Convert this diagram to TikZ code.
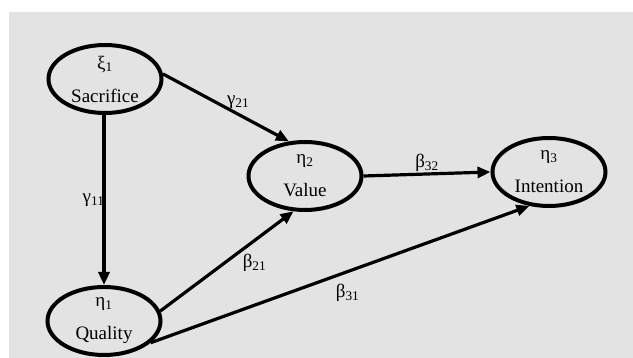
\documentclass[tikz,border=0pt]{standalone}
\usepackage{fontspec}
\setmainfont{Liberation Serif}
\usetikzlibrary{arrows.meta,positioning,shapes.geometric}

\begin{document}
\begin{tikzpicture}[x=1pt,y=-1pt,>={Triangle[length=13pt,width=11pt]},
  construct/.style={ellipse,draw,line width=4pt,minimum width=113pt,minimum height=68pt,
    inner sep=0pt,align=center,font=\fontsize{19}{20}\selectfont},
  link/.style={->,line width=3.2pt},
  coef/.style={font=\fontsize{19}{20}\selectfont,inner sep=1pt}]
\useasboundingbox (0,0) rectangle (633,358);
\fill[black!11] (9,12) rectangle (633,358);

\node[construct] (sac) at (105,79) {ξ\textsubscript{1}\\[13pt]Sacrifice};
\node[construct] (qua) at (104,321) {η\textsubscript{1}\\[13pt]Quality};
\node[construct] (val) at (305,176) {η\textsubscript{2}\\[13pt]Value};
\node[construct] (int) at (549,172) {η\textsubscript{3}\\[13pt]Intention};

\draw[link] (sac.south -| qua.north) -- node[coef,pos=.5,left,xshift=3pt] {γ\textsubscript{11}} (qua.north);
\draw[link] (sac.5) -- node[coef,pos=.55,above,xshift=6pt] {γ\textsubscript{21}} (val.115);
\draw[link] (val.east) -- node[coef,midway,above] {β\textsubscript{32}} (int.west);
\draw[link] (qua.10) -- node[coef,pos=.6,below right] {β\textsubscript{21}} (val.252);
\draw[link] (qua.335) -- node[coef,pos=.52,below=10pt] {β\textsubscript{31}} (int.240);
\end{tikzpicture}
\end{document}
